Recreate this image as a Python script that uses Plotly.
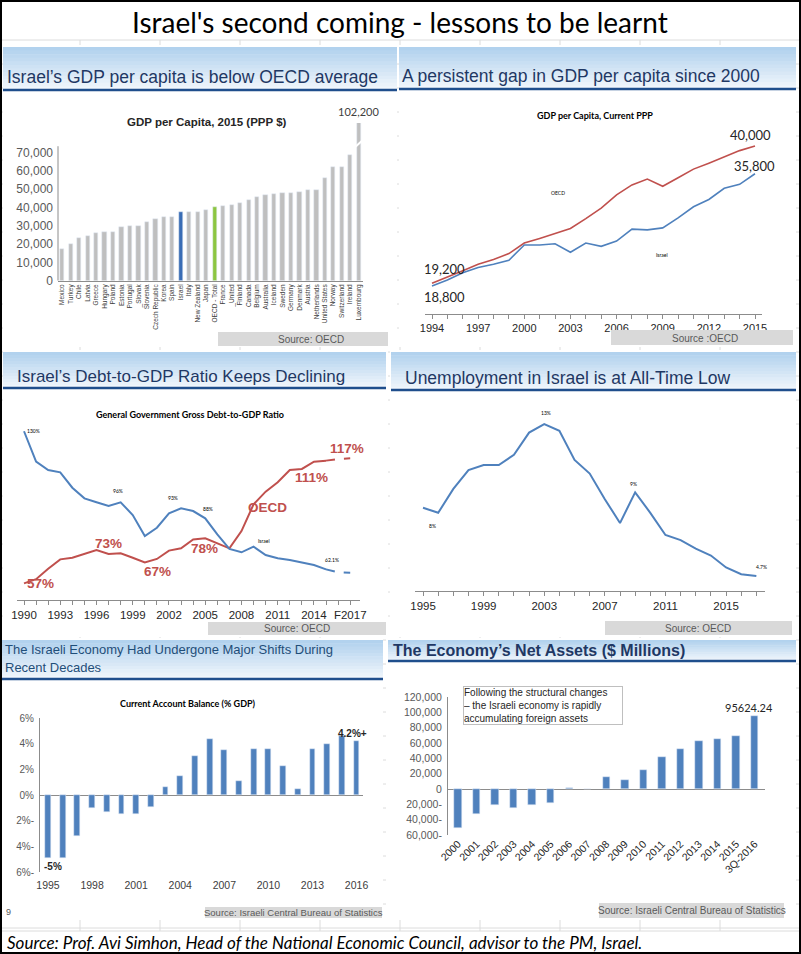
import plotly.graph_objects as go

W, H = 801, 954
def px(x): return x / W
def py(y): return 1 - y / H

ARIAL = "Liberation Sans, Arial, sans-serif"
CAL = "Lato, Carlito, sans-serif"
BLUE = "#4F81BD"
RED = "#C0504D"
AXC = "#8C8C8C"

# ---------------- data ----------------
countries = ["Mexico", "Turkey", "Chile", "Latvia", "Greece", "Hungary", "Poland", "Estonia",
             "Portugal", "_Slovak", "Slovenia", "Czech Republic", "Korea", "Spain", "Israel",
             "Italy", "New Zealand", "Japan", "OECD - Total", "France", "_United", "Finland",
             "Canada", "Belgium", "Australia", "Iceland", "Sweden", "Germany", "Denmark",
             "Austria", "Netherlands", "United States", "Norway", "Switzerland", "Ireland",
             "Luxembourg"]
gdp_2015 = [17500, 20200, 23100, 24700, 26200, 26500, 26500, 29100, 29800, 29800, 32000, 33600,
            34700, 34700, 37300, 37300, 37600, 38400, 40500, 40900, 41600, 42400, 44200, 45800,
            46900, 47500, 47800, 47800, 48700, 49500, 49500, 56000, 62000, 62400, 68500, 102200]
gdp_ticks = [0, 10000, 20000, 30000, 40000, 50000, 60000, 70000]

years_gdp = list(range(1994, 2016))
oecd_gdp = [19200, 20100, 21100, 22100, 22800, 23700, 25300, 26000, 26800, 27500, 29000,
            30600, 32600, 34100, 35000, 33900, 35200, 36500, 37400, 38400, 39300, 40000]
israel_gdp = [18800, 19700, 20800, 21600, 22100, 22700, 25000, 25000, 25200, 23900, 25300,
              24800, 25600, 27400, 27300, 27600, 29100, 30800, 31900, 33600, 34200, 35800]

years_debt = list(range(1990, 2018))
oecd_debt = [57, 59, 64, 68.5, 69.3, 71.2, 73, 71.1, 71.4, 69.3, 67, 68.7, 72.7, 73.8, 78.1,
             78.6, 76.2, 73.8, 82.1, 94.9, 101, 105.5, 111.4, 111.9, 115.4, 115.9, 116.7, 117]
israel_debt = [130, 115.4, 111.4, 110.3, 102.9, 97.8, 95.9, 94.1, 95.9, 89.8, 79.7, 83.7, 90.6,
               93, 91.7, 88.2, 80.5, 73.5, 71.9, 74.6, 70.6, 69, 68.2, 66.9, 65.8, 63.7, 62.3, 62.1]
forecast_from = 2015
debt_tickvals = [1990, 1993, 1996, 1999, 2002, 2005, 2008, 2011, 2014, 2017]
debt_ticktext = ["1990", "1993", "1996", "1999", "2002", "2005", "2008", "2011", "2014", "F2017"]

years_unemp = list(range(1995, 2018))
unemp = [8.1, 7.8, 9.2, 10.3, 10.6, 10.6, 11.2, 12.5, 13.0, 12.6, 10.9, 10.1, 8.6, 7.2, 9.0,
         7.8, 6.5, 6.2, 5.7, 5.3, 4.6, 4.2, 4.1]

years_ca = list(range(1995, 2017))
ca_balance = [-4.9, -4.9, -3.2, -1.0, -1.3, -1.5, -1.45, -0.9, 0.6, 1.5, 3.06, 4.36, 3.53, 1.1,
              3.56, 3.6, 2.26, 0.5, 3.56, 3.95, 4.57, 4.2]
ca_ticks = [-6, -4, -2, 0, 2, 4, 6]
ca_ticktext = ["6%-", "4%-", "2%-", "0%", "2%", "4%", "6%"]

na_periods = ["2000", "2001", "2002", "2003", "2004", "2005", "2006", "2007", "2008", "2009",
              "2010", "2011", "2012", "2013", "2014", "2015", "3Q-2016"]
net_assets = [-51247.3, -32600, -20900, -24800, -21300, -18700, 800, 0, 15200, 11700, 24300,
              41700, 52600, 62600, 64800, 68700, 95624.24]
na_ticks = [-60000, -40000, -20000, 0, 20000, 40000, 60000, 80000, 100000, 120000]
na_ticktext = [f"{abs(v):,}" + ("-" if v < 0 else "") for v in na_ticks]

# ---------------- figure ----------------
fig = go.Figure()

bar_colors = ["#3A6DB5" if c == "Israel" else "#8DC640" if c.startswith("OECD") else "#BFBFBF"
              for c in countries]
fig.add_trace(go.Bar(x=countries, y=gdp_2015, marker_color=bar_colors, width=0.5,
                     xaxis="x", yaxis="y", hoverinfo="x+y"))

fig.add_trace(go.Scatter(x=years_gdp, y=oecd_gdp, mode="lines", line=dict(color=RED, width=1.6),
                         xaxis="x2", yaxis="y2"))
fig.add_trace(go.Scatter(x=years_gdp, y=israel_gdp, mode="lines", line=dict(color=BLUE, width=1.6),
                         xaxis="x2", yaxis="y2"))

for series, col in [(oecd_debt, RED), (israel_debt, BLUE)]:
    sx = [y for y in years_debt if y <= forecast_from]
    sy = [v for y, v in zip(years_debt, series) if y <= forecast_from]
    dx = [y for y in years_debt if y >= forecast_from]
    dy = [v for y, v in zip(years_debt, series) if y >= forecast_from]
    fig.add_trace(go.Scatter(x=sx, y=sy, mode="lines", line=dict(color=col, width=2),
                             xaxis="x3", yaxis="y3"))
    fig.add_trace(go.Scatter(x=dx, y=dy, mode="lines", line=dict(color=col, width=2, dash="dash"),
                             xaxis="x3", yaxis="y3"))

fig.add_trace(go.Scatter(x=years_unemp, y=unemp, mode="lines", line=dict(color=BLUE, width=2),
                         xaxis="x4", yaxis="y4"))

fig.add_trace(go.Bar(x=years_ca, y=ca_balance, marker_color=BLUE, width=0.4,
                     xaxis="x5", yaxis="y5"))

fig.add_trace(go.Bar(x=na_periods, y=net_assets, marker_color=BLUE, width=0.4,
                     xaxis="x6", yaxis="y6"))

def dx_(a, b): return [px(a), px(b)]
def dy_(top, bottom): return [py(bottom), py(top)]

hidden = dict(visible=False, showgrid=False, zeroline=False, automargin=False)
minor_style = dict(ticks="outside", ticklen=4, tickcolor=AXC, showgrid=False)

fig.update_layout(
    width=W, height=H, margin=dict(l=0, r=0, t=0, b=0, pad=0, autoexpand=False),
    paper_bgcolor="white", plot_bgcolor="rgba(0,0,0,0)", showlegend=False,
    font=dict(family=ARIAL, color="#262626"),
    bargap=0,
    xaxis=dict(domain=dx_(58, 363), anchor="y", type="category", range=[-0.5, 35.5],
               showline=True, linecolor=AXC, tickangle=-90, showgrid=False, automargin=False,
               tickfont=dict(size=6.5, color="#404040", family=ARIAL)),
    yaxis=dict(domain=dy_(123, 280.7), anchor="x", range=[0, 86200], tickvals=gdp_ticks,
               tickformat=",", showgrid=False, zeroline=False, showline=False, automargin=False,
               ticklabelstandoff=4, tickfont=dict(size=12, color="#595959", family=ARIAL)),
    xaxis2=dict(domain=dx_(425, 762), anchor="y2", range=[1993.545, 2015.455], automargin=False,
                showline=True, linecolor=AXC, showgrid=False, ticks="outside", ticklen=4,
                tickcolor=AXC, tickmode="linear", tick0=1994, dtick=3,
                minor=dict(dtick=1, tick0=1994, **minor_style),
                tickfont=dict(size=11, color="#262626", family=ARIAL)),
    yaxis2=dict(domain=dy_(100, 314), anchor="x2", range=[14550, 46970], **hidden),
    xaxis3=dict(domain=dx_(17, 360), anchor="y3", range=[1989.42, 2017.81], automargin=False,
                showline=True, linecolor=AXC, showgrid=False, ticks="outside", ticklen=4,
                tickcolor=AXC, tickmode="array", tickvals=debt_tickvals, ticktext=debt_ticktext,
                minor=dict(tickmode="array", tickvals=years_debt, **minor_style),
                tickfont=dict(size=11.5, color="#262626", family=ARIAL)),
    yaxis3=dict(domain=dy_(420, 600), anchor="x3", range=[49, 135.4], **hidden),
    xaxis4=dict(domain=dx_(415, 765), anchor="y4", range=[1994.47, 2017.57], automargin=False,
                showline=True, linecolor=AXC, showgrid=False, ticks="outside", ticklen=4,
                tickcolor=AXC, tickmode="linear", tick0=1995, dtick=4,
                minor=dict(dtick=1, tick0=1995, **minor_style),
                tickfont=dict(size=11.5, color="#262626", family=ARIAL)),
    yaxis4=dict(domain=dy_(400, 591), anchor="x4", range=[3.22, 14.41], **hidden),
    xaxis5=dict(domain=dx_(40, 363), anchor="y5", range=[1994.455, 2016.44], automargin=False,
                showline=False, showgrid=False, zeroline=False, tickmode="linear",
                tick0=1995, dtick=3, ticklabelstandoff=5,
                tickfont=dict(size=10.5, color="#404040", family=ARIAL)),
    yaxis5=dict(domain=dy_(718, 872), anchor="x5", range=[-6, 6], tickvals=ca_ticks,
                ticktext=ca_ticktext, showline=True, linecolor=AXC, showgrid=False,
                zeroline=True, zerolinecolor=AXC, zerolinewidth=1, ticklabelstandoff=3,
                automargin=False, tickfont=dict(size=10, color="#595959", family=ARIAL)),
    xaxis6=dict(domain=dx_(448, 765), anchor="y6", type="category", range=[-0.54, 16.56],
                showline=False, showgrid=False, tickangle=-45, automargin=False,
                tickfont=dict(size=10.5, color="#262626", family=ARIAL)),
    yaxis6=dict(domain=dy_(697, 835), anchor="x6", range=[-60000, 120000], tickvals=na_ticks,
                ticktext=na_ticktext, showline=True, linecolor=AXC, showgrid=False,
                zeroline=True, zerolinecolor=AXC, zerolinewidth=1, ticklabelstandoff=3,
                automargin=False, tickfont=dict(size=10.5, color="#595959", family=ARIAL)),
)

shapes = []
def line(x0, y0, x1, y1, color, width=1, layer="below", **kw):
    shapes.append(dict(type="line", xref="paper", yref="paper", x0=px(x0), x1=px(x1),
                       y0=py(y0), y1=py(y1), line=dict(color=color, width=width), layer=layer, **kw))
def rect(x0, y0, x1, y1, fill, layer="below", lc=None, lw=0):
    shapes.append(dict(type="rect", xref="paper", yref="paper", x0=px(x0), x1=px(x1),
                       y0=py(y1), y1=py(y0), fillcolor=fill,
                       line=dict(color=lc or fill, width=lw), layer=layer))

# spreadsheet grid
GRID = "#DCDCDC"
for gx in range(80, 801, 80):
    line(gx, 40, gx, 931, GRID)
gy = 40
while gy < 931:
    line(0, gy, 801, gy, GRID)
    gy += 24
line(0, 931, 801, 931, GRID)

# panel backgrounds
for (a, b, c, d) in [(3, 45, 397, 347), (399, 45, 796, 347), (3, 350, 388, 637),
                     (390, 350, 796, 637), (2, 638, 383, 920), (386, 638, 796, 920)]:
    rect(a, b, c, d, "white")

def header(x0, x1, y0, y1):
    n = 12
    top = (0xB2, 0xD2, 0xEE)
    bot = (0xF0, 0xF6, 0xFC)
    for i in range(n):
        t = i / (n - 1)
        c = tuple(int(top[k] + (bot[k] - top[k]) * t) for k in range(3))
        ya = y0 + (y1 - y0) * i / n
        yb = y0 + (y1 - y0) * (i + 1) / n + 0.6
        rect(x0, ya, x1, yb, "rgb(%d,%d,%d)" % c)
    line(x0, y1, x1, y1, "#1F4E8C", 2.5)

header(3, 397, 47, 90)
header(399, 796, 47, 89)
header(3, 386, 352, 388)
header(391, 796, 352, 390)
header(1, 383, 640, 679)
header(388, 796, 640, 661)

# source boxes
for (a, b, c, d) in [(218, 332, 388, 346), (611, 330, 793, 345), (208, 622, 386, 635),
                     (605, 621, 792, 635), (205, 907, 382, 918), (599, 903, 784, 918)]:
    rect(a, b, c, d, "#D9D9D9", layer="above")

# panel 1 y axis line and break mark on the Luxembourg bar
shapes.append(dict(type="line", xref="paper", yref="y", x0=px(58), x1=px(58), y0=0, y1=73500,
                   line=dict(color=AXC, width=1), layer="above"))
shapes.append(dict(type="line", xref="x", yref="y", x0=34.55, x1=35.45, y0=73000, y1=76800,
                   line=dict(color="white", width=2), layer="above"))

# outer border
line(1, 0, 1, 954, "black", 2, layer="above")
line(0, 1, 801, 1, "black", 2, layer="above")
line(800, 0, 800, 954, "black", 2, layer="above")
line(0, 953, 801, 953, "black", 2, layer="above")

fig.update_layout(shapes=shapes)

ann = []
def txt(x, y, s, size, color="#262626", family=ARIAL, xanchor="center", bold=False, **kw):
    if bold:
        s = "<b>" + s + "</b>"
    ann.append(dict(x=px(x), y=py(y), xref="paper", yref="paper", text=s, showarrow=False,
                    xanchor=xanchor, yanchor="middle", font=dict(size=size, color=color, family=family), **kw))
def dlab(xr, yr, x, y, s, size, color="#262626", family=ARIAL, dx=0, dy=0, bold=False, xanchor="center"):
    if bold:
        s = "<b>" + s + "</b>"
    ann.append(dict(x=x, y=y, xref=xr, yref=yr, text=s, showarrow=False, xshift=dx, yshift=dy,
                    xanchor=xanchor, yanchor="middle", font=dict(size=size, color=color, family=family)))

# main title & footer
txt(400, 22, "Israel's second coming - lessons to be learnt", 28, "black", CAL)
txt(5, 942, "<i>Source: Prof. Avi Simhon, Head of the National Economic Council, advisor to the PM, Israel.</i>",
    17, "black", CAL, xanchor="left")

NAVY = "#1F3864"
txt(5, 77, "Israel’s GDP per capita is below OECD average", 17.5, NAVY, xanchor="left")
txt(400, 76, "A persistent gap in GDP per capita since 2000", 17.5, NAVY, xanchor="left")
txt(15, 377, "Israel’s Debt-to-GDP Ratio Keeps Declining", 17, NAVY, xanchor="left")
txt(403, 378, "Unemployment in Israel is at All-Time Low", 17.5, NAVY, xanchor="left")
txt(3, 649, "The Israeli Economy Had Undergone Major Shifts During", 13, "#1F4E79", xanchor="left")
txt(3, 667, "Recent Decades", 13, "#1F4E79", xanchor="left")
txt(391, 650, "The Economy’s Net Assets ($ Millions)", 16, NAVY, xanchor="left", bold=True)

# chart titles
txt(207, 122, "GDP per Capita, 2015 (PPP $)", 11.5, "#262626", ARIAL, bold=True)
txt(595, 115, "GDP per Capita, Current PPP", 9, "black", CAL, bold=True)
txt(190, 414, "General Government Gross Debt-to-GDP Ratio", 9, "black", CAL, bold=True)
txt(188, 703, "Current Account Balance (% GDP)", 9, "black", CAL, bold=True)

# source texts
txt(311, 339, "Source: OECD", 10, "#595959")
txt(705, 338, "Source :OECD", 10, "#595959")
txt(297, 628.5, "Source: OECD", 10, "#595959")
txt(698, 628, "Source: OECD", 10, "#595959")
txt(293, 912.5, "Source: Israeli Central Bureau of Statistics", 9.5, "#595959")
txt(692, 910.5, "Source: Israeli Central Bureau of Statistics", 10, "#595959")
txt(4, 912, "9", 9, "#595959", xanchor="left")

# panel 1 label
ann.append(dict(x="Luxembourg", y=1, xref="x", yref="y domain", text="102,200", showarrow=False,
                yanchor="bottom", yshift=3, font=dict(size=11, color="#404040", family=CAL)))

# panel 2 labels
dlab("x2", "y2", years_gdp[-1], oecd_gdp[-1], f"{oecd_gdp[-1]:,}", 13, dx=-5, dy=11, family=CAL)
dlab("x2", "y2", years_gdp[-1], israel_gdp[-1], f"{israel_gdp[-1]:,}", 13, dx=-1, dy=8, family=CAL)
dlab("x2", "y2", years_gdp[0], oecd_gdp[0], f"{oecd_gdp[0]:,}", 13, dx=-10, dy=14, family=CAL, xanchor="left")
dlab("x2", "y2", years_gdp[0], israel_gdp[0], f"{israel_gdp[0]:,}", 13, dx=-10, dy=-11, family=CAL, xanchor="left")
txt(558, 193, "OECD", 5, "black", CAL)
txt(662, 255, "Israel", 5, "black", CAL)

# panel 3 labels
def yi(years, yr): return years.index(yr)
for yr, s, ddx, ddy in [(1990, "130%", 9, 0), (1998, "96%", -3, 11), (2003, "93%", -8, 10),
                        (2005, "88%", 3, 9), (2009, "Israel", 10, 6), (2017, "62.1%", -18, 13)]:
    dlab("x3", "y3", yr, israel_debt[yi(years_debt, yr)], s, 5, "black", CAL, ddx, ddy)
for yr, s, ddx, ddy in [(1990, "57%", 16, 0), (1996, "73%", 12, 7), (2000, "67%", 13, -9),
                        (2005, "78%", -1, -10), (2009, "OECD", 14, -3), (2013, "111%", 10, -9),
                        (2017, "117%", -3, 10)]:
    dlab("x3", "y3", yr, oecd_debt[yi(years_debt, yr)], s, 13.5, RED, ARIAL, ddx, ddy, bold=True)

# panel 4 labels
for yr, s, ddx, ddy in [(2003, "13%", 2, 11), (1996, "8%", -6, -13), (2009, "9%", -2, 8),
                        (2017, "4.7%", 5, 9)]:
    dlab("x4", "y4", yr, unemp[yi(years_unemp, yr)], s, 5, "black", CAL, ddx, ddy)

# panel 5 labels
dlab("x5", "y5", years_ca[0], ca_balance[0], "-5%", 10, "#262626", ARIAL, 5, -9, bold=True)
dlab("x5", "y5", years_ca[-1], ca_balance[-1], "4.2%+", 10, "#262626", ARIAL, -4, 8, bold=True)

# panel 6 labels
dlab("x6", "y6", na_periods[0], net_assets[0], f"{net_assets[0]}", 11, "#262626", CAL, 9, -10)
dlab("x6", "y6", na_periods[-1], net_assets[-1], f"{net_assets[-1]}", 11, "#262626", CAL, -6, 8)
ann.append(dict(x=px(542.5), y=py(705.5), xref="paper", yref="paper", showarrow=False,
                xanchor="center", yanchor="middle",
                text="Following the structural changes<br>– the Israeli economy is rapidly<br>accumulating foreign assets",
                align="left", width=158, bgcolor="white", bordercolor="#BFBFBF",
                borderwidth=1, borderpad=0, font=dict(size=10, color="#262626", family=ARIAL)))

fig.update_layout(annotations=ann)
fig.write_html("out.html", config={"displayModeBar": False},
               post_script="document.body.style.margin='0';document.body.style.padding='0';"
                           "document.body.style.overflow='hidden';")
